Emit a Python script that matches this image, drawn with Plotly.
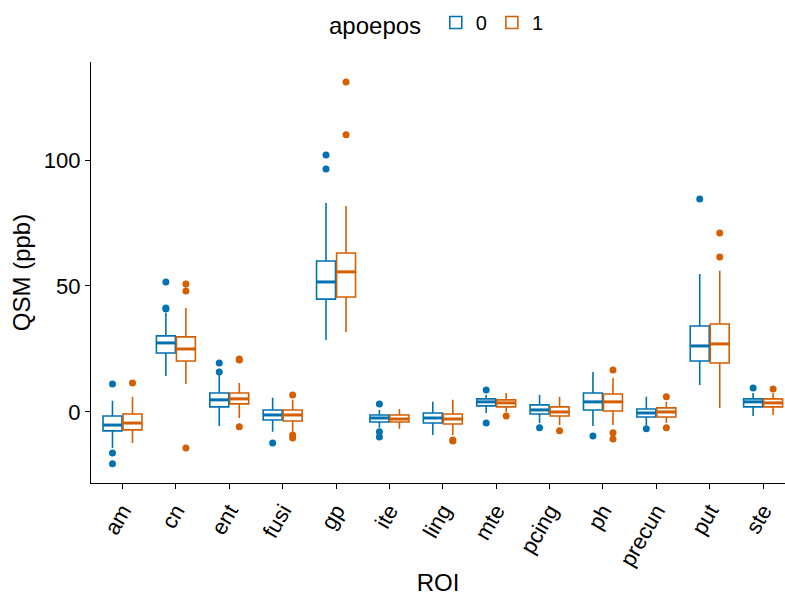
import plotly.graph_objects as go

rois = ["am", "cn", "ent", "fusi", "gp", "ite", "ling", "mte", "pcing", "ph", "precun", "put", "ste"]
groups = ["0", "1"]
colors = {"0": "#0072B2", "1": "#D55E00"}

# Box statistics per group: lower whisker, q1, median, q3, upper whisker
low0 = [-14.3, 14.3, -5.6, -7.9, 28.6, -6.3, -9.1, -0.4, -4.4, -5.6, -5.2, 10.7, -1.6]
q1_0 = [-7.5, 23.4, 2.0, -3.2, 44.8, -4.0, -4.4, 2.4, -0.8, 0.8, -2.0, 20.2, 2.0]
med0 = [-5.2, 27.4, 4.8, -1.2, 51.6, -2.4, -2.4, 4.0, 0.8, 4.0, -0.4, 26.2, 4.0]
q3_0 = [-1.6, 30.2, 7.5, 0.8, 59.9, -1.2, -0.4, 5.2, 2.8, 7.5, 1.2, 34.1, 5.2]
up0 = [4.4, 39.3, 15.3, 5.6, 82.9, 0.8, 4.0, 6.7, 6.7, 15.9, 6.0, 54.8, 7.5]

low1 = [-12.3, 11.1, -2.4, -7.9, 31.7, -6.7, -9.1, 0.0, -5.2, -5.2, -4.4, 1.6, -1.2]
q1_1 = [-7.1, 20.2, 3.2, -3.6, 45.6, -4.0, -4.8, 2.0, -1.6, 0.4, -2.0, 19.4, 2.0]
med1 = [-4.4, 25.0, 5.2, -1.2, 55.6, -2.8, -2.8, 3.6, 0.0, 4.0, 0.0, 27.0, 3.6]
q3_1 = [-0.8, 29.8, 7.5, 0.8, 63.1, -1.2, -0.8, 4.8, 2.0, 7.1, 1.6, 34.9, 5.2]
up1 = [6.0, 41.3, 11.5, 4.8, 81.7, 1.2, 4.8, 7.5, 6.0, 13.5, 4.0, 56.0, 7.5]

# Outliers (ROI, value)
out0_roi = ["am", "am", "am", "cn", "cn", "cn", "ent", "ent", "fusi", "gp", "gp",
            "ite", "ite", "ite", "mte", "mte", "pcing", "ph", "precun", "put", "ste"]
out0_val = [11.1, -16.3, -20.6, 40.9, 41.3, 51.6, 15.9, 19.4, -12.3, 102.0, 96.4,
            3.2, -7.9, -9.9, 8.7, -4.4, -6.3, -9.5, -6.7, 84.5, 9.5]
out1_roi = ["am", "cn", "cn", "cn", "ent", "ent", "ent", "fusi", "fusi", "fusi", "gp", "gp",
            "ling", "ling", "mte", "pcing", "ph", "ph", "ph", "precun", "precun", "put", "put", "ste"]
out1_val = [11.5, 50.8, 48.0, -14.3, 21.0, 20.6, -5.9, 6.7, -9.1, -10.3, 131.0, 110.0,
            -11.1, -11.5, -1.6, -7.5, 16.7, -8.3, -10.7, 6.0, -6.3, 71.0, 61.5, 9.1]

dodge = 0.1875
box_w = 0.355
offsets = {"0": -dodge, "1": dodge}
stats = {"0": (low0, q1_0, med0, q3_0, up0), "1": (low1, q1_1, med1, q3_1, up1)}
outs = {"0": (out0_roi, out0_val), "1": (out1_roi, out1_val)}

fig = go.Figure()
for g in groups:
    lo, q1, md, q3, hi = stats[g]
    xs = [i + 1 + offsets[g] for i in range(len(rois))]
    fig.add_trace(go.Box(
        x=xs, q1=q1, median=md, q3=q3, lowerfence=lo, upperfence=hi,
        name=g, legendgroup=g, width=box_w, whiskerwidth=0,
        line=dict(color=colors[g], width=1.6), fillcolor="white",
        boxpoints=False, hoverinfo="skip",
    ))
for g in groups:
    lo, q1, md, q3, hi = stats[g]
    mx, my = [], []
    for i, m in enumerate(md):
        c = i + 1 + offsets[g]
        mx += [c - box_w / 2, c + box_w / 2, None]
        my += [m, m, None]
    fig.add_trace(go.Scatter(x=mx, y=my, mode="lines", line=dict(color=colors[g], width=3),
                             showlegend=False, hoverinfo="skip"))
    r, v = outs[g]
    fig.add_trace(go.Scatter(
        x=[rois.index(k) + 1 + offsets[g] for k in r], y=v, mode="markers",
        marker=dict(color=colors[g], size=7), showlegend=False, legendgroup=g,
    ))

font = "Liberation Sans, Arial, sans-serif"
fig.update_layout(
    width=785, height=597,
    margin=dict(l=91, r=0, t=62, b=114),
    paper_bgcolor="white", plot_bgcolor="white",
    font=dict(family=font, size=20, color="black"),
    boxmode="overlay",
    showlegend=True,
    legend=dict(orientation="h", x=0.5, xanchor="center", y=0.995, yanchor="top",
                yref="container", title=dict(text="apoepos ", side="left"),
                font=dict(size=20), itemwidth=30, tracegroupgap=0),
)
fig.update_xaxes(
    range=[0.41, 13.41], tickmode="array", tickvals=list(range(1, len(rois) + 1)),
    ticktext=rois, tickangle=-60, showline=True, linecolor="black", linewidth=1.3,
    ticks="outside", ticklen=5, tickcolor="black", showgrid=False, zeroline=False,
    title=dict(text="ROI", standoff=4), tickfont=dict(size=22),
)
fig.update_yaxes(
    range=[-28.2, 138.9], tickvals=[0, 50, 100], showline=True, linecolor="black",
    linewidth=1.3, ticks="outside", ticklen=5, tickcolor="black", showgrid=False,
    zeroline=False, title=dict(text="QSM (ppb)", standoff=6), tickfont=dict(size=22),
)
fig.write_html("out.html")
